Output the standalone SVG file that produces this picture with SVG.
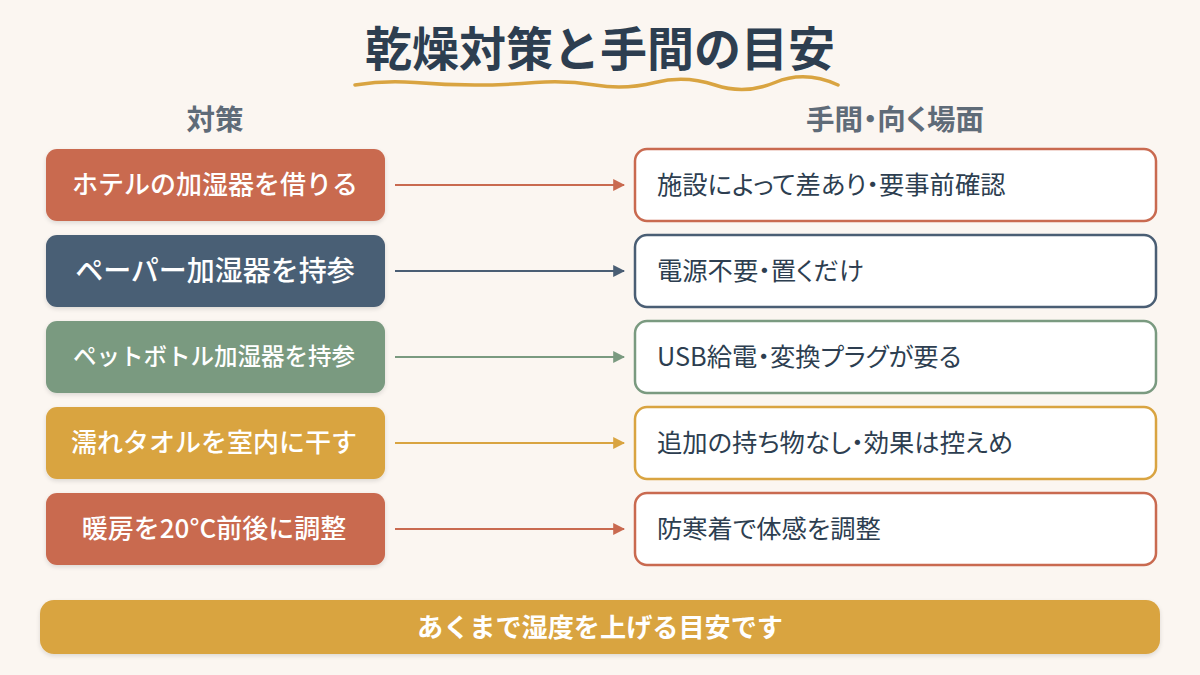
<svg xmlns="http://www.w3.org/2000/svg" width="1200" height="675" viewBox="0 0 1200 675">
<defs>
<style>
.title{font-family:"Noto Sans CJK JP","Noto Sans",sans-serif;font-weight:700;font-size:47px;fill:#2d3e50}
.hdr{font-family:"Noto Sans CJK JP","Noto Sans",sans-serif;font-weight:700;font-size:28.5px;fill:#5f6b78;font-feature-settings:"palt"}
.lt{font-family:"Noto Sans CJK JP","Noto Sans",sans-serif;font-weight:500;fill:#ffffff}
.rt{font-family:"Noto Sans CJK JP","Noto Sans",sans-serif;font-weight:400;font-size:25.3px;fill:#2d3e50;font-feature-settings:"palt"}
.rb{fill:#ffffff;stroke-width:2.5}
.bt{font-family:"Noto Sans CJK JP","Noto Sans",sans-serif;font-weight:700;font-size:26px;fill:#ffffff}
</style>
<filter id="sh" x="-10%" y="-20%" width="120%" height="150%">
<feDropShadow dx="0" dy="2" stdDeviation="2" flood-color="#000" flood-opacity="0.12"/>
</filter>
<marker id="a1" viewBox="0 0 10 10" refX="9" refY="5" markerWidth="6" markerHeight="6" orient="auto" markerUnits="strokeWidth"><path d="M0,0 L10,5 L0,10 z" fill="#c96a50"/></marker>
<marker id="a2" viewBox="0 0 10 10" refX="9" refY="5" markerWidth="6" markerHeight="6" orient="auto" markerUnits="strokeWidth"><path d="M0,0 L10,5 L0,10 z" fill="#4a5e74"/></marker>
<marker id="a3" viewBox="0 0 10 10" refX="9" refY="5" markerWidth="6" markerHeight="6" orient="auto" markerUnits="strokeWidth"><path d="M0,0 L10,5 L0,10 z" fill="#7a9a80"/></marker>
<marker id="a4" viewBox="0 0 10 10" refX="9" refY="5" markerWidth="6" markerHeight="6" orient="auto" markerUnits="strokeWidth"><path d="M0,0 L10,5 L0,10 z" fill="#d9a441"/></marker>
</defs>
<rect width="1200" height="675" fill="#fbf6f1"/>
<g id="title">
<text class="title" x="600" y="66" text-anchor="middle">乾燥対策と手間の目安</text>
<path d="M355,85 Q385,80 415,82.5 T475,85 T535,82.5 T595,85 T655,82.5 T715,85 T775,82.5 T838,85" fill="none" stroke="#d9a441" stroke-width="3.5" stroke-linecap="round"/>
</g>
<g id="headers">
<text class="hdr" x="215" y="130" text-anchor="middle">対策</text>
<text class="hdr" x="895" y="130" text-anchor="middle">手間・向く場面</text>
</g>
<g id="connectors" stroke-width="2">
<line x1="395" y1="185" x2="624" y2="185" stroke="#c96a50" marker-end="url(#a1)"/>
<line x1="395" y1="271" x2="624" y2="271" stroke="#4a5e74" marker-end="url(#a2)"/>
<line x1="395" y1="357" x2="624" y2="357" stroke="#7a9a80" marker-end="url(#a3)"/>
<line x1="395" y1="443" x2="624" y2="443" stroke="#d9a441" marker-end="url(#a4)"/>
<line x1="395" y1="529" x2="624" y2="529" stroke="#c96a50" marker-end="url(#a1)"/>
</g>
<g id="n1">
<rect x="46" y="149" width="339" height="72" rx="11" fill="#c96a50" filter="url(#sh)"/>
<text class="lt" x="215" y="194" font-size="26" text-anchor="middle">ホテルの加湿器を借りる</text>
</g>
<g id="n2">
<rect x="46" y="235" width="339" height="72" rx="11" fill="#4a5e74" filter="url(#sh)"/>
<text class="lt" x="215" y="281" font-size="28" text-anchor="middle">ペーパー加湿器を持参</text>
</g>
<g id="n3">
<rect x="46" y="321" width="339" height="72" rx="11" fill="#7a9a80" filter="url(#sh)"/>
<text class="lt" x="214" y="365" font-size="23.5" text-anchor="middle">ペットボトル加湿器を持参</text>
</g>
<g id="n4">
<rect x="46" y="407" width="339" height="72" rx="11" fill="#d9a441" filter="url(#sh)"/>
<text class="lt" x="214" y="452" font-size="26" text-anchor="middle">濡れタオルを室内に干す</text>
</g>
<g id="n5">
<rect x="46" y="493" width="339" height="72" rx="11" fill="#c96a50" filter="url(#sh)"/>
<text class="lt" x="214" y="538" font-size="26" text-anchor="middle">暖房を20°C前後に調整</text>
</g>
<g id="r1">
<rect class="rb" x="635" y="149" width="521" height="72" rx="12" stroke="#c96a50"/>
<text class="rt" x="657" y="194">施設によって差あり・要事前確認</text>
</g>
<g id="r2">
<rect class="rb" x="635" y="235" width="521" height="72" rx="12" stroke="#4a5e74"/>
<text class="rt" x="657" y="280">電源不要・置くだけ</text>
</g>
<g id="r3">
<rect class="rb" x="635" y="321" width="521" height="72" rx="12" stroke="#7a9a80"/>
<text class="rt" x="657" y="366">USB給電・変換プラグが要る</text>
</g>
<g id="r4">
<rect class="rb" x="635" y="407" width="521" height="72" rx="12" stroke="#d9a441"/>
<text class="rt" x="657" y="452">追加の持ち物なし・効果は控えめ</text>
</g>
<g id="r5">
<rect class="rb" x="635" y="493" width="521" height="72" rx="12" stroke="#c96a50"/>
<text class="rt" x="657" y="538">防寒着で体感を調整</text>
</g>
<g id="footer">
<rect x="40" y="600" width="1120" height="54" rx="14" fill="#d9a441" filter="url(#sh)"/>
<text class="bt" x="600" y="637" text-anchor="middle" textLength="366" lengthAdjust="spacingAndGlyphs">あくまで湿度を上げる目安です</text>
</g>
</svg>
